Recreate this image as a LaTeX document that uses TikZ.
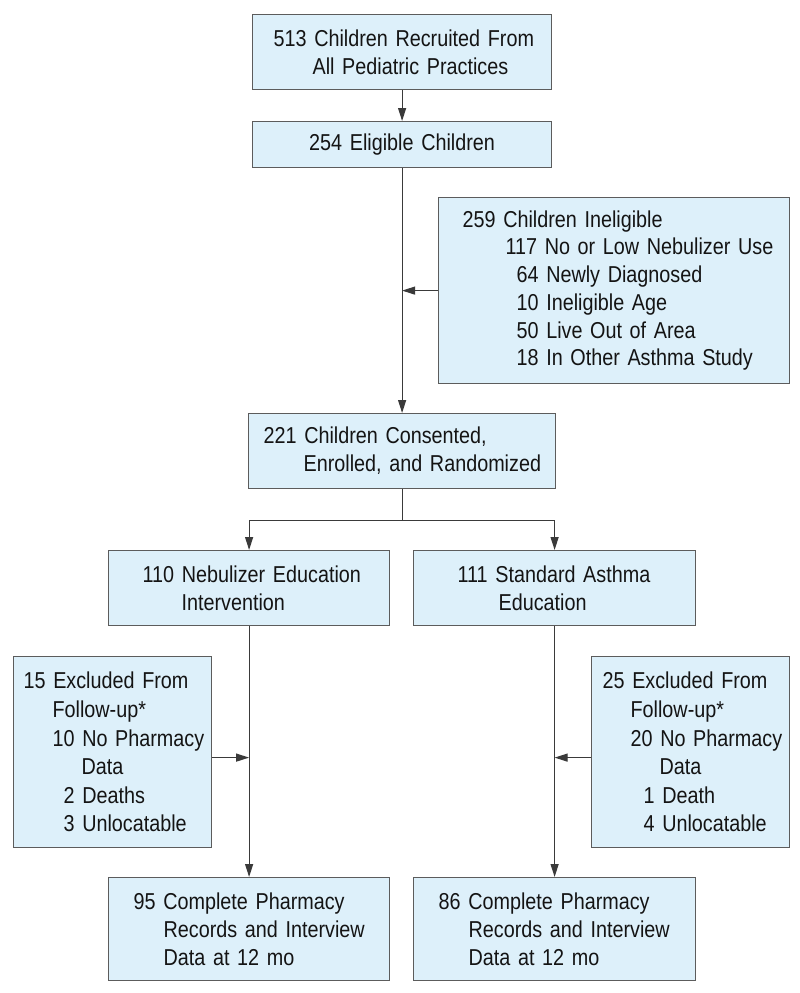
\documentclass[tikz,border=0pt]{standalone}
\usepackage{fontspec}
\setmainfont{Liberation Sans}[FakeStretch=0.86]
\usetikzlibrary{arrows.meta,calc}
\definecolor{boxfill}{HTML}{DDF0FA}
\definecolor{boxline}{HTML}{5C5C5C}
\definecolor{conn}{HTML}{3A3A3A}
\definecolor{txt}{HTML}{141414}
\newcommand\LN[2]{\hspace*{#1pt}\mbox{#2}}
\begin{document}
\begin{tikzpicture}[x=1pt,y=-1pt,
  box/.style={draw=boxline, fill=boxfill, line width=1.2pt, anchor=north west,
    inner ysep=0pt, align=left, text=txt, font=\fontsize{23}{28}\selectfont},
  arr/.style={draw=conn, line width=1.2pt, -{Triangle[length=13pt,width=8pt]}},
  ln/.style={draw=conn, line width=1.2pt}]
\useasboundingbox[fill=white] (0,0) rectangle (800,993);

\node[box, minimum width=299pt, minimum height=75pt, text width=257pt, inner xsep=21pt] (b1) at (252,14)
  {\LN{0}{513 Children Recruited From}\\\LN{39}{All Pediatric Practices}};
\node[box, align=center, minimum width=299pt, minimum height=46pt, text width=257pt, inner xsep=21pt] (b2) at (252,121)
  {254 Eligible Children};
\node[box, minimum width=351pt, minimum height=186pt, text width=303pt, inner xsep=24pt,
  font=\fontsize{23}{27.7}\selectfont] (inel) at (438,197)
  {\LN{0}{259 Children Ineligible}\\\LN{43}{117 No or Low Nebulizer Use}\\\LN{54}{64 Newly Diagnosed}\\
   \LN{54}{10 Ineligible Age}\\\LN{54}{50 Live Out of Area}\\\LN{54}{18 In Other Asthma Study}};
\node[box, minimum width=307pt, minimum height=75pt, text width=277pt, inner xsep=15pt] (b3) at (248,413)
  {\LN{0}{221 Children Consented,}\\\LN{40}{Enrolled, and Randomized}};
\node[box, minimum width=281pt, minimum height=75pt, text width=213pt, inner xsep=34pt] (b4) at (108,550)
  {\LN{0}{110 Nebulizer Education}\\\LN{39}{Intervention}};
\node[box, minimum width=282pt, minimum height=75pt, text width=194pt, inner xsep=44pt] (b5) at (413,550)
  {\LN{0}{111 Standard Asthma}\\\LN{41}{Education}};
\node[box, minimum width=198pt, minimum height=191pt, text width=178pt, inner xsep=10pt,
  font=\fontsize{23}{28.6}\selectfont] (exl) at (13,656)
  {\LN{0}{15 Excluded From}\\\LN{29}{Follow-up*}\\\LN{29}{10 No Pharmacy}\\\LN{58}{Data}\\
   \LN{40}{2 Deaths}\\\LN{40}{3 Unlocatable}};
\node[box, minimum width=198pt, minimum height=191pt, text width=176pt, inner xsep=11pt,
  font=\fontsize{23}{28.6}\selectfont] (exr) at (591,656)
  {\LN{0}{25 Excluded From}\\\LN{28}{Follow-up*}\\\LN{28}{20 No Pharmacy}\\\LN{57}{Data}\\
   \LN{41}{1 Death}\\\LN{41}{4 Unlocatable}};
\node[box, minimum width=281pt, minimum height=103pt, text width=231pt, inner xsep=25pt] (b6) at (108,877)
  {\LN{0}{95 Complete Pharmacy}\\\LN{30}{Records and Interview}\\\LN{30}{Data at 12 mo}};
\node[box, minimum width=282pt, minimum height=103pt, text width=232pt, inner xsep=25pt] (b7) at (413,877)
  {\LN{0}{86 Complete Pharmacy}\\\LN{30}{Records and Interview}\\\LN{30}{Data at 12 mo}};

\coordinate (split) at ($(b3.south)+(0,31)$);
\coordinate (el) at ([yshift=-5.5pt]exl.east);
\coordinate (er) at ([yshift=-5.5pt]exr.west);

\draw[arr] (b1.south) -- (b2.north);
\draw[arr] (b2.south) -- (b3.north);
\draw[arr] (inel.west) -- (inel.west -| b2.south);
\draw[arr] (b3.south) -- (split) -| (b4.north);
\draw[arr] (split) -| (b5.north);
\draw[arr] (b4.south) -- (b6.north);
\draw[arr] (b5.south) -- (b7.north);
\draw[arr] (el) -- (el -| b4.south);
\draw[arr] (er) -- (er -| b5.south);
\end{tikzpicture}
\end{document}
